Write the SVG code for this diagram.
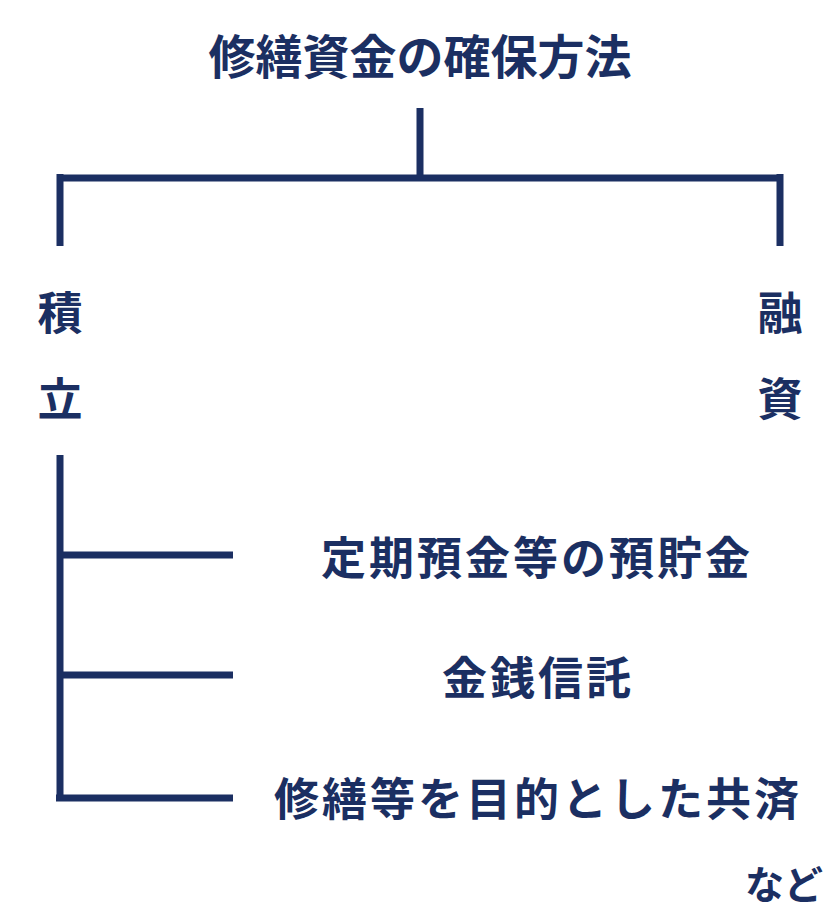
<svg xmlns="http://www.w3.org/2000/svg" width="840" height="924" viewBox="0 0 840 924">
<style>
text{font-family:"Noto Sans CJK JP","Noto Sans",sans-serif;font-weight:bold;fill:#1b2f62;dominant-baseline:central;text-anchor:middle}
.l{stroke:#1b2f62;stroke-width:7;fill:none;stroke-linecap:butt}
.t{font-size:45px;letter-spacing:3px}
</style>
<rect width="840" height="924" fill="#fff"/>
<g id="title"><text x="420" y="53" style="font-size:47px">修繕資金の確保方法</text></g>
<g id="connectors">
<path class="l" d="M420 108V178M58 178H782M60 174V246M780 174V246"/>
<path class="l" d="M60 455V800M60 555H233M60 675H233M56 798H233"/>
</g>
<g id="tsumitate"><text x="60" y="310" style="font-size:45px">積</text><text x="60" y="396" style="font-size:45px">立</text></g>
<g id="yushi"><text x="780" y="310" style="font-size:45px">融</text><text x="780" y="396" style="font-size:45px">資</text></g>
<g id="n1"><text class="t" x="537" y="555">定期預金等の預貯金</text></g>
<g id="n2"><text class="t" x="538" y="675">金銭信託</text></g>
<g id="n3"><text class="t" x="538" y="796">修繕等を目的とした共済</text></g>
<g id="nado"><text x="784" y="882" style="font-size:39px">など</text></g>
</svg>
